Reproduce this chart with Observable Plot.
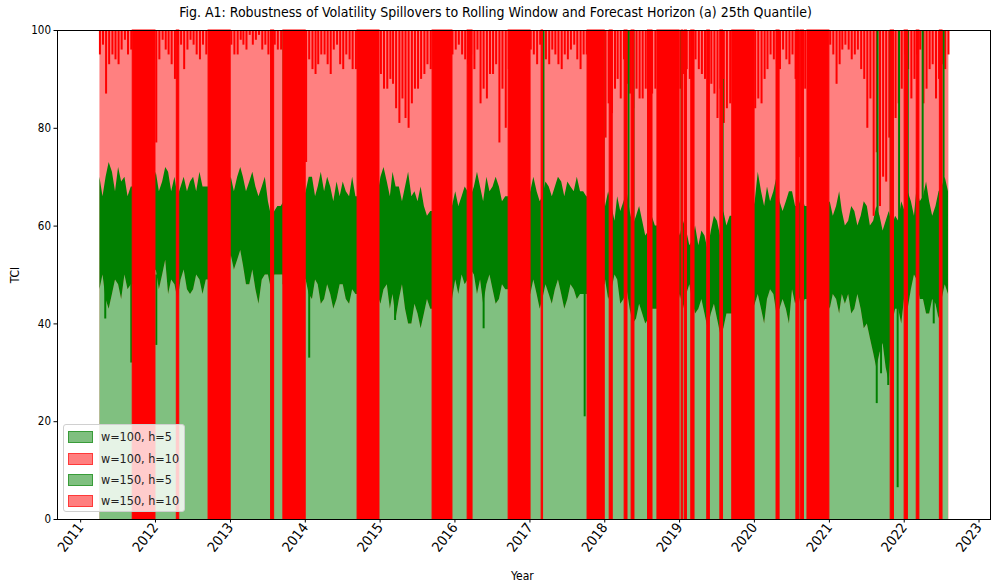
<!DOCTYPE html>
<html><head><meta charset="utf-8">
<script src="https://cdn.jsdelivr.net/npm/d3@7"></script>
<script src="https://cdn.jsdelivr.net/npm/@observablehq/plot@0.6"></script>
<style>
body{margin:0;background:#fff;width:991px;height:587px;overflow:hidden;font-family:"DejaVu Sans",sans-serif}
#wrap{position:relative;width:991px;height:587px}
#title{position:absolute;left:0;top:4px;width:991px;text-align:center;font:14px "DejaVu Sans Condensed","DejaVu Sans";color:#000;white-space:nowrap}
#chart{position:absolute;left:0;top:22px}
.lbl{position:absolute;font:12px "DejaVu Sans Condensed","DejaVu Sans";color:#000;white-space:nowrap}
#legend{position:absolute;left:63px;top:424px;width:122px;height:88px;background:rgba(255,255,255,0.8);border:1px solid #d0d0d0;border-radius:3px;box-sizing:border-box}
.sw{position:absolute;left:4px;width:25px;height:12px;box-sizing:border-box}
.lt{position:absolute;left:37px;font:12.5px "DejaVu Sans Condensed","DejaVu Sans";color:#222;white-space:nowrap;line-height:14px}
</style></head><body>
<div id="wrap">
  <div id="title"></div>
  <div id="chart"></div>
  <div class="lbl" id="xlab" style="left:511px;top:569px">Year</div>
  <div class="lbl" id="ylab" style="left:7px;top:268px;transform:rotate(-90deg);transform-origin:center">TCI</div>
  <div id="legend"></div>
</div>
<script>
// ---------------- data ----------------
const titleText = "Fig. A1: Robustness of Volatility Spillovers to Rolling Window and Forecast Horizon (a) 25th Quantile)";
const seriesNames = ["w=100, h=5", "w=100, h=10", "w=150, h=5", "w=150, h=10"];
const seriesColors = ["green", "red", "green", "red"];
const dataStart = "2011-04-05";
const dataEnd = "2022-08-07";
const yearTicks = [2011,2012,2013,2014,2015,2016,2017,2018,2019,2020,2021,2022,2023];
const yTicks = [0,20,40,60,80,100];

// monthly samples (day 5 of each month, Apr 2011 .. Aug 2022)
const greenHigh = [
 70,70,71,72,70,68,68,68,68,
 71,69,71,70,68,67,70,71,68,68,68,68,
 70,70,70,69,68,68,65,63,64,65,65,65,
 67,70,68,67,68,69,69,66,66,66,66,66,
 70,69,71,68,68,66,65,64,63,64,64,64,
 67,66,67,68,68,70,68,68,66,66,66,66,
 67,67,66,68,68,69,69,67,67,66,66,66,
 64,64,66,65,63,62,61,59,60,60,60,60,
 58,59,57,56,58,59,61,63,62,62,62,62,
 65,67,68,67,65,65,67,64,64,64,64,64,
 65,64,63,61,63,62,64,61,62,61,60,61,
 63,65,68,66,65,64,68,67];
const greenLow = [
 47,45,46,48,50,48,50,50,50,
 51,50,46,48,49,47,47,49,49,50,50,50,
 54,53,52,48,47,49,50,50,50,50,50,50,
 49,45,48,45,46,45,48,44,46,46,46,46,
 44,48,46,45,43,40,42,42,43,45,45,45,
 49,50,49,50,49,48,47,45,47,47,47,47,
 46,46,45,46,47,46,45,47,46,46,46,46,
 49,47,49,45,43,41,42,41,43,43,43,43,
 46,46,45,43,42,42,41,39,42,42,42,42,
 44,43,45,46,43,43,47,46,45,45,45,45,
 43,45,46,46,43,43,40,34,34,31,40,43,
 46,47,49,45,42,44,45,46];
// mid-month samples (day 20, Apr 2011 .. Jul 2022)
const greenHighMid = [
 66,73,67,69,66,68,68,68,68,
 67,72,67,66,70,69,67,68,68,68,68,68,
 67,72,67,71,66,70,62,64,65,65,65,65,
 70,66,71,70,65,66,67,70,66,66,66,66,
 72,66,68,65,71,67,68,62,63,64,64,64,
 64,68,66,71,65,67,70,65,66,66,66,66,
 70,65,69,66,70,66,68,70,67,66,66,66,
 67,61,63,67,60,64,58,62,60,60,60,60,
 61,56,60,59,55,62,58,60,62,62,62,62,
 71,64,65,70,63,67,64,66,64,64,64,64,
 62,67,60,64,60,65,60,64,59,63,62,65,
 67,62,65,69,62,67,70];
const greenLowMid = [
 50,43,49,45,47,48,50,50,50,
 47,53,49,45,51,46,50,46,49,50,50,50,
 51,55,48,51,44,50,47,50,50,50,50,50,
 46,49,44,48,43,48,45,47,46,46,46,46,
 47,43,41,48,40,44,39,45,43,45,45,45,
 46,48,51,46,44,50,44,48,47,47,47,47,
 49,43,48,44,49,43,48,45,46,46,46,46,
 45,50,44,47,40,44,40,43,43,43,43,43,
 43,48,42,45,39,44,38,42,42,42,42,42,
 46,40,47,42,45,40,44,43,45,45,45,45,
 46,42,44,42,46,39,37,31,36,28,43,40,
 43,50,45,42,45,41,48];
// red h=10 series: lowest reach of downward spikes
const redLow = [
 95,87,95,93,98,96,96,96,96,
 77,98,95,90,97,96,97,94,95,96,96,96,
 97,95,97,99,98,96,95,97,96,96,96,96,
 73,92,93,95,91,97,92,94,92,95,95,95,
 91,88,89,81,82,85,88,91,92,95,95,95,
 96,95,93,92,85,86,91,77,80,95,95,95,
 96,93,96,93,95,92,94,97,92,95,95,95,
 78,83,90,94,87,88,86,85,88,90,90,90,
 88,92,92,92,90,89,82,81,85,88,88,88,
 84,85,92,94,92,94,95,74,88,90,90,90,
 97,89,96,96,95,92,80,62,64,69,75,85,
 95,86,95,85,92,86,93,95];
const redLowMid = [
 97,93,94,96,95,96,96,96,96,
 94,96,93,97,92,98,95,97,96,96,96,96,
 95,98,96,97,99,97,94,96,96,96,96,96,
 94,91,95,93,96,93,95,92,94,95,95,95,
 88,90,84,86,80,88,90,93,94,95,95,95,
 97,94,95,96,88,91,93,88,92,95,95,95,
 95,97,94,96,93,95,96,94,95,95,95,95,
 85,88,86,89,84,86,88,87,88,90,90,90,
 91,90,94,91,93,87,88,84,88,88,88,88,
 86,90,95,93,96,93,90,82,90,90,90,90,
 95,93,97,94,96,90,86,75,70,78,82,88,
 92,90,96,88,93,90,92];
// deep downward spikes of the green series
const greenDipDates = ["2011-05-01","2011-09-05","2012-01-05","2014-01-20","2015-03-15","2016-05-20","2017-09-25","2021-08-20","2021-09-10","2021-10-15","2021-11-30","2022-05-25"];
const greenDipValues = [41,32,35.6,33,40.7,39,21,23.7,29.8,27.4,6.5,40];
// green series jumping up toward 100
const greenJumpDates = ["2013-07-20","2013-09-17","2015-10-23","2016-03-13","2016-12-25","2017-03-08","2017-12-26","2018-04-27","2018-05-21","2019-01-11","2019-01-30","2019-03-05","2019-07-30","2020-04-23","2020-07-30","2021-08-24","2021-10-27","2021-12-07","2022-01-18","2022-04-01","2022-07-12"];
const greenJumpTops = [100,100,100,100,100,100,100,100,100,100,100,100,90,97,87,100,100,100,100,100,100];
// periods where the h=10 series saturates (solid red)
const redBandStart = ["2011-09-12","2012-04-14","2012-09-16","2013-07-18","2013-09-16","2014-09-13","2015-09-14","2016-03-03","2016-09-19","2017-02-27","2017-10-09","2018-01-25","2018-04-08","2018-05-12","2018-07-31","2018-09-15","2019-01-11","2019-01-27","2019-02-27","2019-05-16","2019-07-19","2019-09-15","2020-04-18","2020-07-24","2020-08-14","2020-09-16","2021-10-27","2022-01-03","2022-03-03","2022-06-24"];
const redBandEnd   = ["2012-01-01","2012-04-26","2013-01-02","2013-08-02","2014-01-03","2014-12-29","2015-12-20","2016-03-27","2017-01-04","2017-03-06","2018-01-01","2018-02-09","2018-04-22","2018-05-26","2018-08-22","2019-01-01","2019-01-19","2019-02-06","2019-03-15","2019-05-29","2019-08-01","2020-01-02","2020-05-03","2020-08-08","2020-08-30","2021-01-01","2021-11-12","2022-01-19","2022-03-16","2022-07-07"];

// ---------------- build tables ----------------
const P = s => new Date(s + "T00:00:00Z");
const monthDates = d3.utcMonth.range(P("2011-04-01"), P("2022-09-01")).map(d => d3.utcDay.offset(d, 4));
const midDates = d3.utcMonth.range(P("2011-04-01"), P("2022-08-01")).map(d => d3.utcDay.offset(d, 19));
const monthly = monthDates.map((d, i) => ({date: d, H: greenHigh[i], L: greenLow[i], R: redLow[i]}));
const mid = midDates.map((d, i) => ({date: d, H: greenHighMid[i], L: greenLowMid[i], R: redLowMid[i]}));
const greenSeries = monthly.concat(mid).sort((a, b) => a.date - b.date);
const dips = greenDipDates.map((d, i) => ({date: P(d), v: greenDipValues[i]}));
const jumps = greenJumpDates.map((d, i) => ({date: P(d), top: greenJumpTops[i]}));
const bands = redBandStart.map((d, i) => ({start: P(d), end: P(redBandEnd[i])}));
const span = [{start: P(dataStart), end: P(dataEnd)}];

const GREEN = "#008000", LGREEN = "#80c080", PINK = "#ff8080", RED = "#ff0000";

const chart = Plot.plot({
  width: 991, height: 565,
  marginLeft: 57, marginRight: 1, marginTop: 8, marginBottom: 68,
  style: {fontFamily: "'DejaVu Sans Condensed', 'DejaVu Sans', sans-serif", fontSize: "11px", background: "white"},
  x: {type: "utc", domain: [P("2010-09-10"), P("2023-02-26")]},
  y: {domain: [0, 100]},
  marks: [
    Plot.rect(span, {x1: "start", x2: "end", y1: 0, y2: 100, fill: PINK}),
    Plot.areaY(greenSeries, {x: "date", y1: 0, y2: "L", fill: LGREEN}),
    Plot.areaY(greenSeries, {x: "date", y1: "L", y2: "H", fill: GREEN}),
    Plot.ruleX(dips, {x: "date", y1: "v", y2: 50, stroke: GREEN, strokeWidth: 2}),
    Plot.ruleX(monthly, {x: "date", y1: "R", y2: 100, stroke: RED, strokeWidth: 2}),
    Plot.ruleX(mid, {x: "date", y1: "R", y2: 100, stroke: RED, strokeWidth: 2}),
    Plot.ruleX(jumps, {x: "date", y1: 48, y2: "top", stroke: GREEN, strokeWidth: 2}),
    Plot.rect(bands, {x1: "start", x2: "end", y1: 0, y2: 100, fill: RED, stroke: RED, strokeWidth: 1}),
    Plot.frame({stroke: "black", strokeWidth: 1}),
    Plot.axisX({ticks: yearTicks.map(y => P(y + "-01-01")), tickFormat: d3.utcFormat("%Y"), tickRotate: -52, tickSize: 3.5, tickPadding: 2, fontSize: 14, label: null}),
    Plot.axisY({ticks: yTicks, tickSize: 3.5, tickPadding: 3, fontSize: 11.5, label: null})
  ]
});
document.getElementById("chart").appendChild(chart);
document.getElementById("title").textContent = titleText;

// legend
const lg = document.getElementById("legend");
const tops = [6, 27.5, 48.5, 70];
seriesNames.forEach((name, i) => {
  const sw = document.createElement("div");
  sw.className = "sw";
  sw.style.top = tops[i] + "px";
  sw.style.background = seriesColors[i] === "green" ? "rgba(0,128,0,0.5)" : "rgba(255,0,0,0.5)";
  sw.style.border = "1px solid " + (seriesColors[i] === "green" ? "rgba(0,128,0,0.55)" : "rgba(255,0,0,0.55)");
  lg.appendChild(sw);
  const t = document.createElement("div");
  t.className = "lt";
  t.style.top = (tops[i] - 1) + "px";
  t.textContent = name;
  lg.appendChild(t);
});
</script>
</body></html>
